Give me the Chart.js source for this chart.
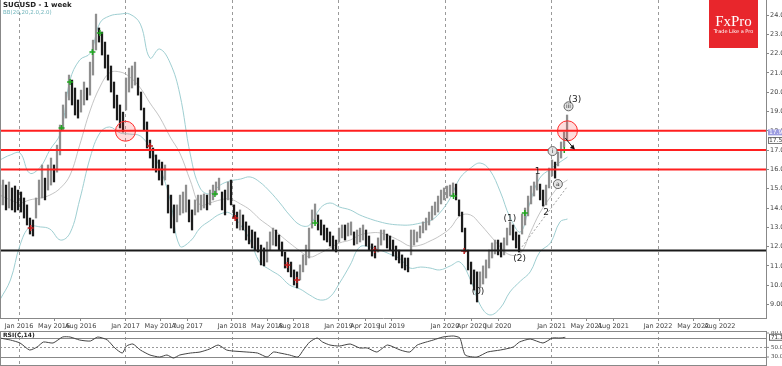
<!DOCTYPE html>
<html lang="en">
<head>
<meta charset="UTF-8">
<title>SUGUSD - 1 week</title>
<script src="https://cdn.jsdelivr.net/npm/chart.js"></script>
<style>
  html, body { margin: 0; padding: 0; background: #fff; }
  #wrap { position: relative; width: 782px; height: 366px; overflow: hidden; background: #fff; }
  #priceChart { position: absolute; left: 0; top: 0; }
  #rsiChart { position: absolute; left: 0; top: 331px; }
</style>
</head>
<body>
<div id="wrap">
  <canvas id="priceChart" width="782" height="331"></canvas>
  <canvas id="rsiChart" width="782" height="35"></canvas>
</div>
<script>
// time axis (decimal years)
const xMin = 2015.822, xMax = 2023.014;
const tickDates = [2016, 2016.33, 2016.58, 2017, 2017.33, 2017.58, 2018, 2018.33, 2018.58, 2019, 2019.25, 2019.5,
                   2020, 2020.25, 2020.5, 2021, 2021.33, 2021.58, 2022, 2022.33, 2022.58];
const tickLabels = ['Jan 2016', 'May 2016', 'Aug 2016', 'Jan 2017', 'May 2017', 'Aug 2017', 'Jan 2018', 'May 2018',
                    'Aug 2018', 'Jan 2019', 'Apr 2019', 'Jul 2019', 'Jan 2020', 'Apr 2020', 'Jul 2020', 'Jan 2021',
                    'May 2021', 'Aug 2021', 'Jan 2022', 'May 2022', 'Aug 2022'];

// price bars, one every ~10 days starting late Oct 2015
const barStart = 2015.822, barStep = 0.02817;
const barHighs = [
  15.19, 15.45, 15.19, 15.35, 15.04, 15.14, 14.93, 14.83, 14.52, 14.16,
  13.48, 13.38, 14.52, 15.45, 16.23, 15.55, 16.23, 16.59, 16.23, 17.26,
  18.30, 19.34, 20.01, 20.89, 20.63, 20.22, 19.60, 20.11, 20.53, 20.22,
  21.56, 22.70, 24.05, 23.33, 23.12, 22.60, 21.93, 21.36, 20.53, 19.85,
  19.34, 18.97, 20.74, 21.25, 21.36, 21.56, 20.74, 20.01, 19.18, 18.46,
  17.52, 17.11, 16.75, 16.49, 16.38, 16.23, 15.19, 14.67, 14.16, 14.16,
  14.67, 14.83, 15.19, 14.42, 13.90, 14.42, 14.67, 14.67, 14.73, 14.67,
  14.93, 15.19, 15.35, 15.55, 14.83, 14.93, 15.35, 15.45, 14.16, 13.79,
  13.90, 13.64, 13.28, 13.07, 12.86, 12.76, 12.45, 12.08, 11.93, 12.24,
  12.76, 12.96, 12.86, 12.60, 12.24, 11.72, 11.41, 11.20, 10.79, 10.69,
  11.05, 11.57, 12.08, 12.96, 13.90, 14.21, 13.64, 13.38, 13.12, 12.96,
  12.76, 12.55, 12.34, 12.96, 13.12, 13.12, 13.22, 13.28, 12.76, 12.86,
  12.96, 13.12, 12.86, 12.55, 12.14, 12.03, 12.45, 12.86, 12.86, 12.65,
  12.55, 12.34, 12.03, 11.82, 11.57, 11.41, 11.41, 12.86, 12.86, 12.76,
  13.07, 13.28, 13.48, 13.79, 14.10, 14.31, 14.62, 14.93, 15.04, 15.14,
  15.19, 15.30, 15.24, 14.42, 13.79, 12.96, 11.82, 11.20, 10.79, 10.69,
  10.69, 11.00, 11.31, 11.82, 12.19, 12.34, 12.34, 12.19, 12.45, 12.96,
  13.28, 13.12, 12.76, 12.60, 13.69, 14.00, 14.62, 15.14, 15.35, 15.76,
  15.24, 14.93, 15.19, 16.07, 16.49, 16.38, 16.90, 17.42, 17.94, 18.82
];
const barLows = [
  14.16, 14.16, 13.90, 14.00, 13.90, 13.79, 13.90, 13.79, 13.48, 13.12,
  12.65, 12.55, 13.48, 14.16, 14.52, 14.42, 14.93, 15.19, 15.35, 15.86,
  16.75, 18.04, 18.66, 19.60, 19.34, 18.82, 18.66, 18.97, 19.34, 19.60,
  19.85, 20.89, 22.19, 22.60, 21.93, 21.25, 20.63, 20.01, 19.18, 18.56,
  18.15, 17.94, 19.08, 20.01, 20.22, 20.37, 19.85, 19.08, 18.04, 17.11,
  16.59, 16.07, 15.86, 15.45, 15.19, 15.45, 13.74, 12.96, 12.71, 13.28,
  13.64, 13.74, 13.79, 13.28, 12.86, 13.64, 13.79, 13.90, 14.00, 13.90,
  14.16, 14.42, 14.67, 14.93, 13.90, 13.64, 14.42, 14.16, 13.48, 12.96,
  12.86, 12.86, 12.34, 12.14, 11.93, 11.82, 11.72, 11.05, 11.00, 11.20,
  11.82, 12.08, 12.03, 11.82, 11.51, 10.89, 10.69, 10.43, 10.01, 9.86,
  10.27, 10.69, 11.05, 11.41, 12.96, 13.28, 12.86, 12.60, 12.34, 12.24,
  12.03, 11.82, 11.72, 12.24, 12.45, 12.34, 12.55, 12.60, 12.08, 12.14,
  12.24, 12.34, 12.03, 11.82, 11.51, 11.41, 11.72, 12.08, 12.34, 11.93,
  11.82, 11.51, 11.31, 11.15, 10.89, 10.79, 10.69, 11.57, 12.08, 12.24,
  12.45, 12.71, 12.86, 13.12, 13.38, 13.64, 13.79, 14.21, 14.42, 14.52,
  14.62, 14.67, 14.42, 13.59, 12.76, 11.72, 10.79, 10.06, 9.75, 9.13,
  9.86, 10.06, 10.37, 10.89, 11.41, 11.62, 11.57, 11.46, 11.57, 12.08,
  12.60, 12.34, 11.93, 11.72, 12.65, 13.12, 13.59, 14.21, 14.62, 14.93,
  14.42, 14.10, 14.16, 15.04, 15.66, 15.55, 16.18, 16.59, 17.16, 17.52
];

// Bollinger bands BB(20)
const bandDates = [
  2015.82, 2015.92, 2016.01, 2016.10, 2016.20, 2016.29, 2016.39, 2016.48, 2016.57, 2016.67,
  2016.76, 2016.85, 2016.95, 2017.04, 2017.14, 2017.23, 2017.32, 2017.42, 2017.51, 2017.61,
  2017.70, 2017.79, 2017.89, 2017.98, 2018.08, 2018.17, 2018.26, 2018.36, 2018.45, 2018.54,
  2018.64, 2018.73, 2018.83, 2018.92, 2019.01, 2019.11, 2019.20, 2019.30, 2019.39, 2019.48,
  2019.58, 2019.67, 2019.77, 2019.86, 2019.95, 2020.05, 2020.14, 2020.24, 2020.33, 2020.42,
  2020.52, 2020.61, 2020.71, 2020.80, 2020.89, 2020.99, 2021.08, 2021.15
];
const bandUpper = [
  16.49, 16.75, 16.85, 15.81, 16.12, 17.01, 17.89, 20.63, 21.67, 22.03,
  23.59, 23.95, 24.05, 24.05, 23.53, 21.77, 22.24, 21.51, 19.91, 16.75,
  15.04, 14.73, 15.19, 15.40, 15.50, 15.61, 15.35, 14.83, 14.26, 13.64,
  13.12, 13.12, 14.00, 14.26, 14.05, 13.90, 13.64, 13.43, 13.28, 13.17,
  13.12, 13.12, 13.22, 13.33, 13.74, 14.52, 15.55, 16.07, 16.33, 15.97,
  14.83, 13.53, 12.76, 14.31, 15.55, 16.02, 16.38, 16.64
];
const bandMiddle = [
  14.67, 14.42, 14.26, 14.42, 14.52, 14.67, 15.04, 15.71, 17.26, 19.08,
  20.27, 21.00, 21.05, 20.79, 20.22, 19.44, 18.72, 17.68, 16.85, 15.40,
  14.16, 14.26, 14.42, 14.47, 14.21, 13.90, 13.43, 13.02, 12.60, 12.19,
  11.77, 11.46, 11.67, 11.93, 12.19, 12.34, 12.60, 12.71, 12.71, 12.55,
  12.29, 12.03, 12.08, 12.29, 12.55, 12.96, 13.59, 13.64, 13.17, 12.60,
  11.98, 11.57, 11.67, 12.71, 13.74, 14.57, 15.19, 15.45
];
const bandLower = [
  9.23, 10.27, 12.08, 13.02, 13.02, 12.91, 12.34, 12.71, 14.42, 16.64,
  17.89, 18.20, 17.89, 17.83, 17.73, 17.11, 16.12, 14.42, 12.03, 12.29,
  12.96, 13.33, 13.69, 13.74, 13.12, 12.34, 11.20, 10.79, 10.48, 10.01,
  9.80, 9.49, 9.23, 9.39, 10.11, 11.05, 11.98, 11.98, 11.82, 11.62,
  11.36, 10.89, 10.94, 10.89, 10.79, 11.00, 11.20, 10.27, 8.98, 8.46,
  8.82, 9.65, 10.22, 10.69, 11.72, 12.19, 13.28, 13.43
];

// horizontal levels
const resistanceLevels = [18.0, 17.0, 16.0];
const supportLevel = 11.8;

// signal markers
const buyDates = [2016.40, 2016.48, 2016.69, 2016.76, 2017.84, 2018.78, 2020.08, 2020.75, 2021.12];
const buyPrices = [18.15, 20.53, 22.08, 23.07, 14.73, 13.22, 14.62, 13.74, 17.01];
const sellDates = [2016.11, 2017.23, 2018.03, 2018.52, 2018.61, 2019.34, 2020.18];
const sellPrices = [12.96, 17.21, 13.48, 11.05, 10.27, 11.82, 11.77];

// highlighted touches of the 18.00 level
const circleDates = [2017.00, 2021.15];
const circlePrices = [17.98, 18.00];

// Elliott wave labels
const waveText = ['(0)', '(1)', '(2)', '1', '2', 'i', 'a', 'iii', '(3)'];
const waveDates = [2020.31, 2020.61, 2020.70, 2020.87, 2020.95, 2021.01, 2021.06, 2021.16, 2021.22];
const wavePrices = [9.65, 13.43, 11.36, 15.86, 13.74, 16.95, 15.24, 19.27, 19.63];
const waveCircled = [false, false, false, false, false, true, true, true, false];

// trend line under wave (2)
const trendDates = [2020.70, 2021.15];
const trendPrices = [11.82, 15.12];

// RSI(14)
const rsiDates = [
  2015.82, 2015.92, 2016.01, 2016.10, 2016.17, 2016.23, 2016.32, 2016.41, 2016.48, 2016.57,
  2016.67, 2016.74, 2016.83, 2016.90, 2016.97, 2017.01, 2017.07, 2017.14, 2017.23, 2017.32,
  2017.39, 2017.45, 2017.51, 2017.61, 2017.70, 2017.79, 2017.87, 2017.95, 2018.01, 2018.14,
  2018.24, 2018.33, 2018.39, 2018.45, 2018.54, 2018.62, 2018.67, 2018.73, 2018.80, 2018.85,
  2018.92, 2019.01, 2019.11, 2019.20, 2019.27, 2019.36, 2019.46, 2019.58, 2019.67, 2019.74,
  2019.89, 2019.98, 2020.08, 2020.14, 2020.19, 2020.30, 2020.40, 2020.52, 2020.64, 2020.70,
  2020.80, 2020.92, 2021.01, 2021.08, 2021.13
];
const rsiValues = [
  69.6, 65.4, 59.2, 44.6, 50.8, 61.3, 59.2, 71.7, 71.7, 65.4,
  63.3, 71.7, 65.4, 48.8, 38.3, 52.9, 57.1, 44.6, 34.2, 30.0,
  34.2, 27.9, 34.2, 38.3, 40.4, 46.7, 55.0, 44.6, 42.5, 40.4,
  38.3, 30.0, 40.4, 38.3, 34.2, 30.0, 44.6, 61.3, 69.6, 61.3,
  55.0, 52.9, 57.1, 48.8, 48.8, 40.4, 55.0, 44.6, 40.4, 55.0,
  65.4, 71.7, 73.8, 69.6, 34.2, 30.0, 40.4, 44.6, 50.8, 61.3,
  67.5, 59.2, 69.6, 69.6, 71.1
];
const rsiLevels = [70, 50, 30];
const rsiTicks = [80, 50, 30];

Chart.defaults.font.family = "'DejaVu Sans', 'Liberation Sans', sans-serif";
Chart.defaults.font.size = 7;
Chart.defaults.color = '#444';

const bars = barHighs.map((h, i) => ({ x: barStart + i * barStep, y: [barLows[i], h] }));
const barColors = barHighs.map((h, i) => {
  if (i === 0) return '#222';
  const mid = (h + barLows[i]) / 2, prev = (barHighs[i - 1] + barLows[i - 1]) / 2;
  return mid >= prev ? '#8f8f8f' : '#1c1c1c';
});
const pts = (xs, ys) => xs.map((x, i) => ({ x: x, y: ys[i] }));
const levelLine = v => [{ x: xMin, y: v }, { x: xMax, y: v }];

function janLines(chart) {
  const { ctx, chartArea: a, scales: { x } } = chart;
  ctx.save();
  ctx.strokeStyle = '#9a9a9a';
  ctx.lineWidth = 1;
  ctx.setLineDash([3, 3]);
  tickDates.forEach((d, i) => {
    if (!tickLabels[i].startsWith('Jan')) return;
    const px = Math.round(x.getPixelForValue(d)) + 0.5;
    ctx.beginPath();
    ctx.moveTo(px, a.top);
    ctx.lineTo(px, a.bottom);
    ctx.stroke();
  });
  ctx.restore();
}

const priceDecor = {
  id: 'priceDecor',
  beforeDraw(chart) {
    const ctx = chart.ctx;
    ctx.save();
    ctx.fillStyle = '#fff';
    ctx.fillRect(0, 0, chart.width, chart.height);
    ctx.restore();
  },
  beforeDatasetsDraw(chart) {
    janLines(chart);
  },
  afterDraw(chart) {
    const { ctx, chartArea: a, scales: { x, y } } = chart;
    ctx.save();
    // frame
    ctx.strokeStyle = '#888';
    ctx.lineWidth = 1;
    ctx.beginPath();
    ctx.moveTo(0.5, 0);
    ctx.lineTo(0.5, a.bottom);
    ctx.stroke();

    // wave labels
    ctx.textAlign = 'center';
    ctx.textBaseline = 'middle';
    waveText.forEach((t, i) => {
      const px = x.getPixelForValue(waveDates[i]), py = y.getPixelForValue(wavePrices[i]);
      if (waveCircled[i]) {
        ctx.beginPath();
        ctx.arc(px, py, 4.5, 0, Math.PI * 2);
        ctx.fillStyle = '#e4e4e4';
        ctx.fill();
        ctx.strokeStyle = '#666';
        ctx.stroke();
        ctx.fillStyle = '#333';
        ctx.font = "6px 'DejaVu Sans'";
        ctx.fillText(t, px, py + 0.5);
      } else {
        ctx.fillStyle = '#222';
        ctx.font = "9px 'DejaVu Sans'";
        ctx.fillText(t, px, py);
      }
    });

    // small arrow after the last bar
    const ax0 = x.getPixelForValue(2021.13), ay0 = y.getPixelForValue(17.62);
    const ax1 = x.getPixelForValue(2021.21), ay1 = y.getPixelForValue(17.08);
    ctx.strokeStyle = '#111';
    ctx.fillStyle = '#111';
    ctx.lineWidth = 1;
    ctx.beginPath();
    ctx.moveTo(ax0, ay0);
    ctx.lineTo(ax1, ay1);
    ctx.stroke();
    ctx.beginPath();
    ctx.moveTo(ax1 + 1, ay1 + 1);
    ctx.lineTo(ax1 - 4, ay1 - 0.5);
    ctx.lineTo(ax1 - 0.5, ay1 - 4);
    ctx.closePath();
    ctx.fill();

    // title
    ctx.textAlign = 'left';
    ctx.textBaseline = 'middle';
    ctx.fillStyle = '#222';
    ctx.font = "bold 7px 'DejaVu Sans'";
    ctx.fillText('SUGUSD - 1 week', 3, 5);
    ctx.fillStyle = '#6fb4bb';
    ctx.font = "5.5px 'DejaVu Sans'";
    ctx.fillText('BB(20,20,2.0,2.0)', 3, 13);

    // logo
    ctx.fillStyle = '#e8262c';
    ctx.fillRect(709, 0, 49, 48);
    ctx.fillStyle = '#fff';
    ctx.textAlign = 'center';
    ctx.font = "15px 'Liberation Serif', serif";
    ctx.fillText('FxPro', 733.5, 22);
    ctx.font = "5px 'DejaVu Sans'";
    ctx.fillText('Trade Like a Pro', 733.5, 32);

    // last price box on the axis
    const lp = y.getPixelForValue(17.92);
    ctx.fillStyle = '#9c9ce0';
    ctx.fillRect(a.right + 2, lp - 3, 16, 6);
    ctx.fillStyle = '#fff';
    ctx.textAlign = 'left';
    ctx.font = "6px 'DejaVu Sans'";
    ctx.fillText('17.92', a.right + 3, lp);
    const sp = y.getPixelForValue(17.5);
    ctx.strokeStyle = '#777';
    ctx.strokeRect(a.right + 2.5, sp - 3, 16, 6);
    ctx.fillStyle = '#444';
    ctx.fillText('17.50', a.right + 3, sp);
    ctx.restore();
  }
};

new Chart(document.getElementById('priceChart'), {
  type: 'bar',
  data: {
    datasets: [
      { type: 'line', data: levelLine(resistanceLevels[0]), borderColor: '#ff1f1f', borderWidth: 2, pointRadius: 0, order: 0 },
      { type: 'line', data: levelLine(resistanceLevels[1]), borderColor: '#ff1f1f', borderWidth: 2, pointRadius: 0, order: 0 },
      { type: 'line', data: levelLine(resistanceLevels[2]), borderColor: '#ff1f1f', borderWidth: 2, pointRadius: 0, order: 0 },
      { type: 'line', data: levelLine(supportLevel), borderColor: '#1a1a1a', borderWidth: 2, pointRadius: 0, order: 0 },
      { type: 'line', data: pts(circleDates, circlePrices), showLine: false, pointRadius: 10,
        backgroundColor: 'rgba(255,40,40,0.16)', borderColor: '#ff2a2a', borderWidth: 1, order: 0 },
      { type: 'line', data: pts(buyDates, buyPrices), showLine: false, pointStyle: 'cross', pointRadius: 3,
        borderColor: '#1fa81f', borderWidth: 1.5, order: 1 },
      { type: 'line', data: pts(sellDates, sellPrices), showLine: false, pointStyle: 'cross', pointRadius: 3,
        borderColor: '#c41c1c', borderWidth: 1.5, order: 1 },
      { type: 'bar', data: bars, backgroundColor: barColors, barThickness: 1.6, order: 2 },
      { type: 'line', data: pts(trendDates, trendPrices), borderColor: '#a0a0a0', borderWidth: 1,
        borderDash: [2, 2], pointRadius: 0, order: 3 },
      { type: 'line', data: pts(bandDates, bandUpper), borderColor: '#9fcfd2', borderWidth: 1, pointRadius: 0, tension: 0.4, order: 3 },
      { type: 'line', data: pts(bandDates, bandMiddle), borderColor: '#b5b5b5', borderWidth: 0.8, pointRadius: 0, tension: 0.4, order: 3 },
      { type: 'line', data: pts(bandDates, bandLower), borderColor: '#9fcfd2', borderWidth: 1, pointRadius: 0, tension: 0.4, order: 3 }
    ]
  },
  options: {
    responsive: false,
    animation: false,
    layout: { padding: 0, autoPadding: false },
    plugins: { legend: { display: false }, tooltip: { enabled: false } },
    scales: {
      x: {
        type: 'linear', min: xMin, max: xMax, offset: false,
        afterBuildTicks: s => { s.ticks = tickDates.map(v => ({ value: v })); },
        afterFit: s => { s.height = 13; s.paddingLeft = 0; s.paddingRight = 0; },
        ticks: { autoSkip: false, maxRotation: 0, padding: 1, font: { size: 6.5 }, color: '#444',
                 callback: (v, i) => tickLabels[i] },
        grid: { offset: false, drawOnChartArea: false, tickLength: 3, tickColor: '#888' },
        border: { color: '#888' }
      },
      y: {
        position: 'right', min: 8.30, max: 24.78,
        afterFit: s => { s.width = 16; s.paddingTop = 0; s.paddingBottom = 0; },
        afterBuildTicks: s => { s.ticks = s.ticks.filter(t => Math.abs(t.value - Math.round(t.value)) < 1e-6); },
        ticks: { stepSize: 1, padding: 1, font: { size: 6.5 }, color: '#444', callback: v => Number(v).toFixed(2) },
        grid: { drawOnChartArea: false, tickLength: 3, tickColor: '#888' },
        border: { color: '#888' }
      }
    }
  },
  plugins: [priceDecor]
});

const rsiDecor = {
  id: 'rsiDecor',
  beforeDraw(chart) {
    const ctx = chart.ctx;
    ctx.save();
    ctx.fillStyle = '#fff';
    ctx.fillRect(0, 0, chart.width, chart.height);
    ctx.restore();
  },
  beforeDatasetsDraw(chart) {
    const { ctx, chartArea: a, scales: { y } } = chart;
    janLines(chart);
    ctx.save();
    ctx.lineWidth = 1;
    rsiLevels.forEach(v => {
      const py = Math.round(y.getPixelForValue(v)) + 0.5;
      ctx.strokeStyle = v === 50 ? '#999' : '#888';
      ctx.setLineDash(v === 50 ? [2, 2] : []);
      ctx.beginPath();
      ctx.moveTo(a.left, py);
      ctx.lineTo(a.right, py);
      ctx.stroke();
    });
    ctx.restore();
  },
  afterDraw(chart) {
    const { ctx, chartArea: a, scales: { y } } = chart;
    ctx.save();
    ctx.strokeStyle = '#888';
    ctx.lineWidth = 1;
    ctx.beginPath();
    ctx.moveTo(0, 0.5);
    ctx.lineTo(a.right, 0.5);
    ctx.moveTo(0.5, 0);
    ctx.lineTo(0.5, chart.height);
    ctx.moveTo(0, chart.height - 0.5);
    ctx.lineTo(a.right, chart.height - 0.5);
    ctx.moveTo(a.right + 0.5, 0);
    ctx.lineTo(a.right + 0.5, chart.height);
    ctx.stroke();
    ctx.fillStyle = '#222';
    ctx.font = "bold 6px 'DejaVu Sans'";
    ctx.textBaseline = 'middle';
    ctx.fillText('RSI(C,14)', 3, 4);
    // axis labels
    ctx.font = "5.5px 'DejaVu Sans'";
    ctx.fillStyle = '#444';
    rsiTicks.forEach(v => {
      const py = y.getPixelForValue(v);
      ctx.beginPath();
      ctx.moveTo(a.right, py);
      ctx.lineTo(a.right + 3, py);
      ctx.stroke();
      ctx.fillText(v.toFixed(1), a.right + 5, py);
    });
    const last = rsiValues[rsiValues.length - 1];
    const py = y.getPixelForValue(last);
    ctx.fillStyle = '#fff';
    ctx.strokeStyle = '#666';
    ctx.fillRect(a.right + 3, py - 3, 15, 6);
    ctx.strokeRect(a.right + 3.5, py - 3, 15, 6);
    ctx.fillStyle = '#333';
    ctx.fillText(last.toFixed(1), a.right + 5, py);
    ctx.restore();
  }
};

new Chart(document.getElementById('rsiChart'), {
  type: 'line',
  data: {
    datasets: [
      { data: pts(rsiDates, rsiValues), borderColor: '#444', borderWidth: 1, pointRadius: 0, tension: 0.2 }
    ]
  },
  options: {
    responsive: false,
    animation: false,
    layout: { padding: 0, autoPadding: false },
    plugins: { legend: { display: false }, tooltip: { enabled: false } },
    scales: {
      x: { type: 'linear', min: xMin, max: xMax, display: false },
      y: {
        position: 'right', min: 11.3, max: 84.2,
        afterFit: s => { s.width = 16; },
        ticks: { display: false },
        grid: { drawOnChartArea: false, drawTicks: false },
        border: { display: false }
      }
    }
  },
  plugins: [rsiDecor]
});
</script>
</body>
</html>
